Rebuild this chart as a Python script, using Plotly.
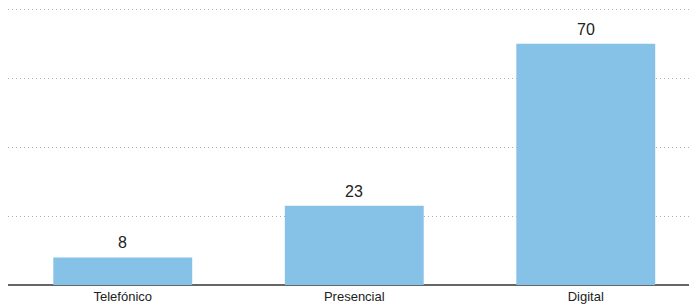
import plotly.graph_objects as go

categories = ["Telefónico", "Presencial", "Digital"]
values = [8, 23, 70]
grid_values = [20, 40, 60, 80]

font_family = "Liberation Sans, Arial, sans-serif"

fig = go.Figure()
fig.add_trace(go.Bar(
    x=categories, y=values, width=0.6,
    marker=dict(color="#86C2E8", line=dict(width=0)),
    cliponaxis=False,
))

for c, v in zip(categories, values):
    fig.add_annotation(x=c, y=v, text=str(v), showarrow=False,
                       yanchor="bottom", yshift=4,
                       font=dict(family=font_family, size=16, color="#222222"))

fig.update_layout(
    width=689, height=297,
    margin=dict(l=0, r=0, t=0, b=20, autoexpand=False),
    paper_bgcolor="white", plot_bgcolor="white",
    showlegend=False,
    xaxis=dict(range=[-0.4957, 2.4805], showgrid=False, showline=False, zeroline=False,
               ticks="", automargin=False, ticklabelstandoff=2,
               tickfont=dict(family=font_family, size=13, color="#222222")),
    yaxis=dict(range=[0, 80.4], tickvals=grid_values, showticklabels=False,
               showgrid=True, gridcolor="#b0b0b0", griddash="1px,3px", gridwidth=1,
               zeroline=True, zerolinecolor="#666666", zerolinewidth=2, showline=False),
)

fig.write_html("out.html")
